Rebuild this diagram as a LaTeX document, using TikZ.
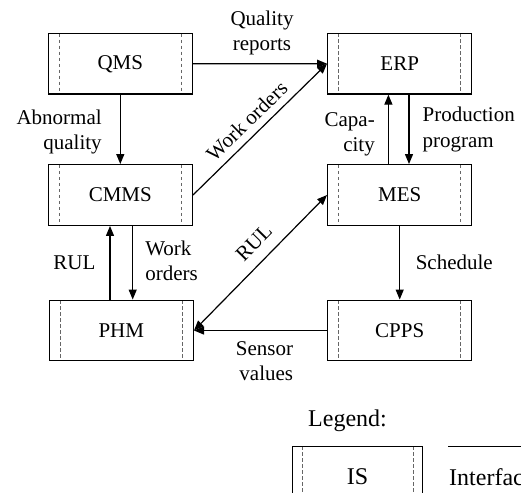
\documentclass[tikz,border=0pt]{standalone}
\usepackage{fontspec}
\setmainfont{Liberation Serif}
\usetikzlibrary{arrows.meta,calc}
\begin{document}
\begin{tikzpicture}[x=1pt,y=-1pt,
  >={Triangle[length=10pt,width=8pt]},
  txt/.style={font=\fontsize{21}{25.5}\selectfont},
  bigtxt/.style={font=\fontsize{24}{28}\selectfont},
  isbox/.style={draw, line width=1.4pt, minimum width=144pt, minimum height=60.5pt,
    inner sep=0pt, txt,
    path picture={\draw[dash pattern=on 3.5pt off 2.5pt, gray!80!black, line width=0.8pt]
      ([xshift=#1]path picture bounding box.north west) --
      ([xshift=#1]path picture bounding box.south west)
      ([xshift=-#1]path picture bounding box.north east) --
      ([xshift=-#1]path picture bounding box.south east);}},
  isbox/.default=11pt,
  flow/.style={draw, line width=1.2pt, ->},
  lbl/.style={txt, inner sep=0pt},
]
\useasboundingbox (0,0) rectangle (521,492);
\clip (0,0) rectangle (521,492);

% information systems
\node[isbox] (qms)  at (120.3,63.8) {QMS};
\node[isbox] (cmms) at (120.3,195)  {CMMS};
\node[isbox] (phm)  at (121.3,330.5){PHM};
\node[isbox] (erp)  at (399.7,63.7) {ERP};
\node[isbox] (mes)  at (399.7,195)  {MES};
\node[isbox] (cpps) at (399.7,330.5){CPPS};

% interfaces
\draw[flow] (qms.east) -- node[lbl, above=8pt, align=center, xshift=2pt]{Quality\\reports} (erp.west);
\draw[flow] (qms.south) -- node[lbl, left=18pt, align=right, yshift=-2.5pt]{Abnormal\\quality} (cmms.north);
\draw[flow] (cmms.east) -- node[pos=0.48, lbl, above=7pt, sloped]{Work orders} (erp.west);

\coordinate (pl) at ($(phm.north)+(-11.3,0)$);
\coordinate (pr) at ($(phm.north)+(11.4,0)$);
\draw[flow] (pl) -- (pl |- cmms.south) node[midway, lbl, left=14pt]{RUL};
\draw[flow] (pr |- cmms.south) -- (pr) node[midway, lbl, right=12pt, align=left, yshift=2pt]{Work\\orders};

\coordinate (ml) at ($(mes.north)+(-11.3,0)$);
\coordinate (mr) at ($(mes.north)+(9.3,0)$);
\draw[flow] (ml) -- (ml |- erp.south) node[midway, lbl, left=13pt, align=right, yshift=-5pt]{Capa-\\city};
\draw[flow] (mr |- erp.south) -- (mr) node[midway, lbl, right=13pt, align=left]{Production\\program};

\draw[flow] (mes.south) -- (cpps.north) node[midway, lbl, right=15.5pt]{Schedule};
\draw[flow] (cpps.west) -- (phm.east) node[pos=0.47, lbl, below=10pt, align=right]{Sensor\\values};
\draw[line width=1.2pt, <->] (phm.east) -- node[pos=0.55, lbl, above=11pt, sloped]{RUL} (mes.west);

% legend
\node[lbl, bigtxt, anchor=base] (leg) at (347.5,426.5) {Legend:};
\node[isbox=9.5pt, minimum width=130pt, bigtxt] (is) at (357.5,476.5) {IS};
\coordinate (ifa) at (448,446.5);
\coordinate (ifb) at (530,446.5);
\draw[line width=1.2pt] (ifa) -- (ifb);
\node[lbl, bigtxt, anchor=base west] (ift) at (449,485) {Interface};
\end{tikzpicture}
\end{document}
